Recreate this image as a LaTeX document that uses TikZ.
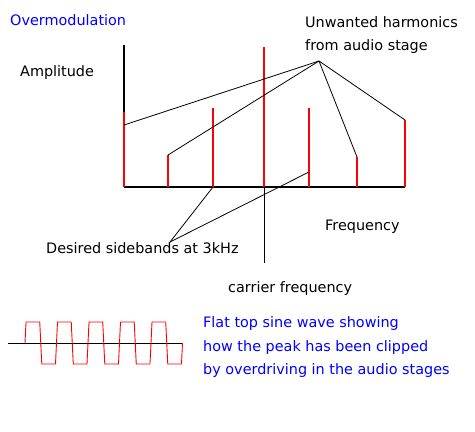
\documentclass[tikz,border=0pt]{standalone}
\usepackage{fontspec}
\setmainfont{DejaVu Sans}
\begin{document}
\begin{tikzpicture}[x=1pt,y=-1pt,
  lbl/.style={anchor=base west,inner sep=0pt,font=\fontsize{14.4}{16}\selectfont},
  bluelbl/.style={lbl,text=blue},
  bar/.style={red,line width=2.6pt},
  thin/.style={black,line width=0.8pt}]
\useasboundingbox (0,0) rectangle (475,432);
% axes
\draw[black,line width=2pt] (124,45) -- (124,112);
\draw[black,line width=2.6pt] (124,187) -- (405,187);
% spectral lines
\coordinate (b0) at (124,187); \coordinate (t0) at (124,112);
\coordinate (b1) at (168,187); \coordinate (t1) at (168,155);
\coordinate (b2) at (213,187); \coordinate (t2) at (213,108);
\coordinate (b3) at (264,187); \coordinate (t3) at (264,47);
\coordinate (b4) at (309,187); \coordinate (t4) at (309,108);
\coordinate (b5) at (357,187); \coordinate (t5) at (357,157);
\coordinate (b6) at (405,187); \coordinate (t6) at (405,120);
\foreach \i in {0,...,6} \draw[bar] (b\i) -- (t\i);
% labels
\node[bluelbl] (title) at (10,25) {Overmodulation};
\node[lbl] (amp) at (20,76) {Amplitude};
\node[lbl] (unw1) at (305,27) {Unwanted harmonics};
\node[lbl] (unw2) at (305,50) {from audio stage};
\node[lbl] (freq) at (325,230) {Frequency};
\node[lbl] (des) at (46,253) {Desired sidebands at 3kHz};
\node[lbl] (car) at (228,292) {carrier frequency};
\node[bluelbl] (f1) at (203,327) {Flat top sine wave showing};
\node[bluelbl] (f2) at (203,351) {how the peak has been clipped};
\node[bluelbl] (f3) at (203,374) {by overdriving in the audio stages};
% harmonic pointers
\coordinate (hp) at (319,61);
\coordinate (h0) at (124,125);
\draw[thin] (hp) -- (h0);
\draw[thin] (hp) -- (t1);
\draw[thin] (hp) -- (t5);
\draw[thin] (hp) -- (t6);
% sideband pointers
\coordinate (sp) at (170,242);
\coordinate (s4) at (309,172);
\draw[thin] (sp) -- (b2);
\draw[thin] (sp) -- (s4);
% carrier pointer
\coordinate (cp) at (264,263);
\draw[thin] (b3) -- (cp);
% flat top wave
\coordinate (wa) at (8,343); \coordinate (wb) at (182,343);
\draw[black,line width=1pt] (wa) -- (wb);
\draw[red,line width=0.9pt] plot[domain=0:1800,samples=600]
  ({25+\x/360*31.5},{343-21*max(-1,min(1,5*sin(\x)))});
\end{tikzpicture}
\end{document}
